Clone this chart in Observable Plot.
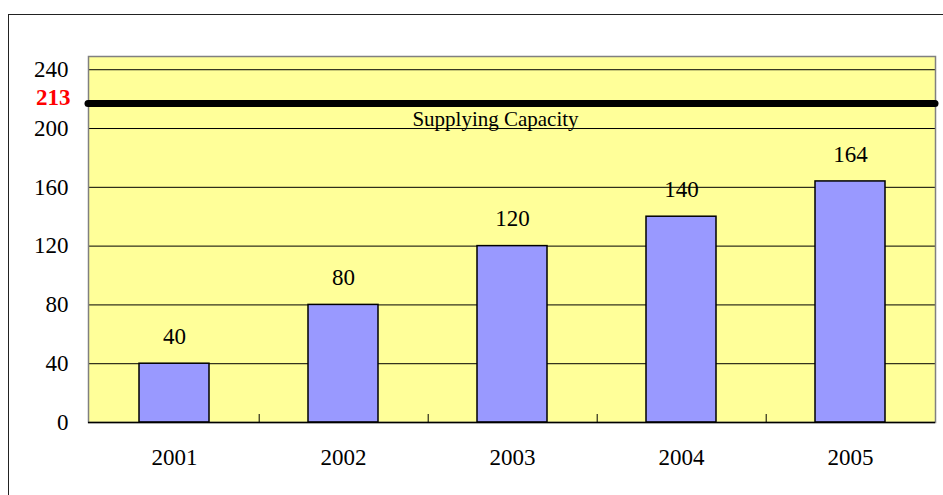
<!DOCTYPE html>
<html>
<head>
<meta charset="utf-8">
<script src="https://cdn.jsdelivr.net/npm/d3@7"></script>
<script src="https://cdn.jsdelivr.net/npm/@observablehq/plot@0.6"></script>
<style>
  html, body { margin: 0; padding: 0; background: #fff; }
  #wrap { position: relative; width: 943px; height: 495px; overflow: hidden; }
  #border { position: absolute; left: 8px; top: 14px; width: 960px; height: 500px;
            border-left: 1.5px solid #222; border-top: 1.5px solid #222; box-sizing: border-box; }
  #chart { position: absolute; left: 0; top: 0; }
  #chart svg, #chart svg text { font-family: "Liberation Serif", "DejaVu Serif", serif !important; }
</style>
</head>
<body>
<div id="wrap"><div id="border"></div><div id="chart"></div></div>
<script>
const years = ["2001", "2002", "2003", "2004", "2005"];
const demand = [40, 80, 120, 140, 164];
const capacity = 213;
const capacityLabel = "Supplying Capacity";
const yTicks = [0, 40, 80, 120, 160, 200, 240];

const data = years.map((y, i) => ({year: y, value: demand[i]}));

const W = 943, H = 495, ML = 88, MR = 8, MT = 56, MB = 73;
const step = (W - ML - MR) / years.length;
const serif = "Liberation Serif, serif";

const chart = Plot.plot({
  width: W,
  height: H,
  marginLeft: ML,
  marginRight: MR,
  marginTop: MT,
  marginBottom: MB,
  style: {fontFamily: serif, fontSize: "23px", background: "transparent", color: "#000"},
  x: {domain: years, paddingInner: 0.587, paddingOuter: 0.2935, label: null},
  y: {domain: [0, 249], label: null},
  marks: [
    Plot.frame({fill: "#FFFF99", stroke: null}),
    Plot.gridY(yTicks.filter(d => d > 0), {stroke: "#000", strokeOpacity: 1, strokeWidth: 1}),
    Plot.frame({stroke: "#808080", strokeWidth: 1.5}),
    Plot.axisY(yTicks, {tickSize: 0, tickPadding: 20, fontSize: 23, label: null}),
    Plot.axisX({tickSize: 0, tickPadding: 26, fontSize: 23, label: null}),
    Plot.ruleX(years.slice(0, -1), {x: d => d, dx: step / 2, y1: 0, y2: 0, insetTop: -8, stroke: "#000", strokeWidth: 1}),
    Plot.barY(data, {x: "year", y: "value", fill: "#9999FF", stroke: "#000", strokeWidth: 1.5}),
    Plot.ruleY([0], {stroke: "#000", strokeWidth: 1.5}),
    Plot.text(data, {x: "year", y: "value", text: d => String(d.value), dy: -27, lineAnchor: "middle", fontSize: 23, fill: "#000"}),
    Plot.ruleY([capacity], {stroke: "#000", strokeWidth: 7, strokeLinecap: "round", dy: -6}),
    Plot.text([capacity], {y: d => d, frameAnchor: "left", text: d => String(d), dx: -18, dy: -12, textAnchor: "end", lineAnchor: "middle", fill: "red", fontWeight: "bold", fontSize: 23}),
    Plot.text([capacityLabel], {x: () => years[2], y: () => capacity, text: d => d, dx: -17, dy: 10, lineAnchor: "middle", fontSize: 21, fill: "#000", style: "letter-spacing:0.8px"})
  ]
});
document.getElementById("chart").appendChild(chart);
</script>
</body>
</html>
